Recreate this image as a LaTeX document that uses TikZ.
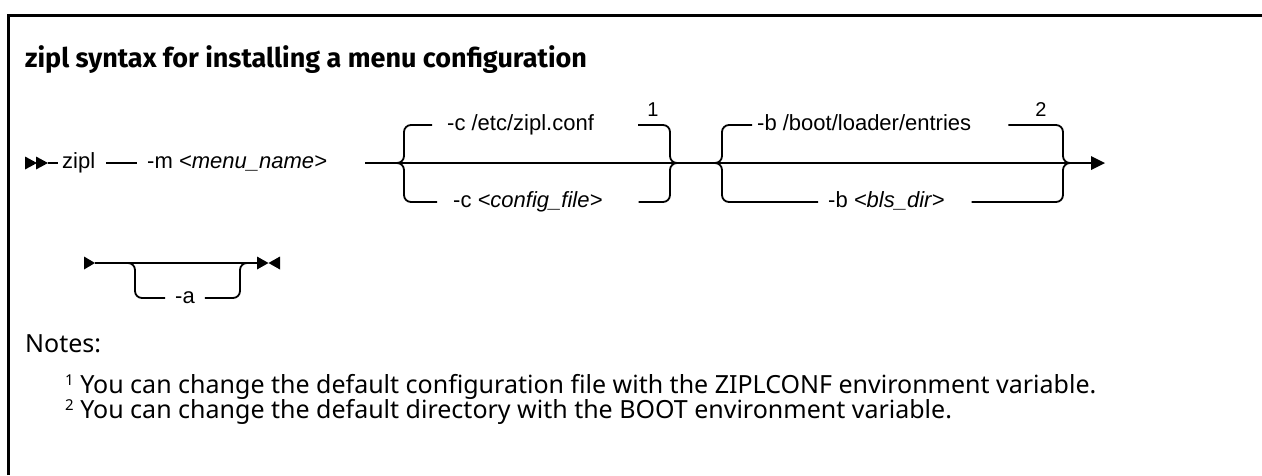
\documentclass[tikz,border=0pt]{standalone}
\usepackage{fontspec}
\setmainfont{Liberation Sans}
\newfontfamily\titlefont{Fira Sans}
\newfontfamily\notefont{Noto Sans}
\begin{document}
\fontsize{22}{26}\selectfont
\begin{tikzpicture}[x=1pt,y=-1pt,
  rail/.style={line width=1.8pt, line cap=butt},
  rc/.style={rail, rounded corners=7pt},
  lbl/.style={font=\fontsize{22}{26}\selectfont, inner sep=0pt, anchor=mid west, text=black},
  supnum/.style={font=\fontsize{20}{22}\selectfont, inner sep=0pt},
  tipfill/.style={fill=black, draw=none},
  ttl/.style={font=\titlefont\bfseries\fontsize{27}{30}\selectfont, inner sep=0pt, anchor=base west},
  notetxt/.style={font=\notefont\fontsize{25}{28}\selectfont, inner sep=0pt, anchor=base west}
]
\useasboundingbox (0,0) rectangle (1262,475);
% frame (top and left only)
\draw[line width=3pt] (8,475) -- (8,15) -- (1262,15);

% title
\node[ttl] (title) at (25,67) {zipl syntax for installing a menu configuration};

% ---- row 1 ----
\fill[tipfill] (25,156.5) -- (37,163) -- (25,169.5) -- cycle;
\fill[tipfill] (36,156.5) -- (48,163) -- (36,169.5) -- cycle;
\node[lbl] (zipl) at (62,163) {zipl};
\node[lbl] (m) at (147,163) {-m \textit{<menu\_name>}};
\draw[rail] (48,163) -- ([xshift=-4pt]zipl.mid west);
\draw[rail] ([xshift=11pt]zipl.mid east) -- ([xshift=-10pt]m.mid west);

% main line through both groups
\coordinate (mainend) at (1092,163);
\draw[rail] ([xshift=38pt]m.mid east) -- (mainend);
\fill[tipfill] (1091,156) -- (1105,163) -- (1091,170) -- cycle;

% group 1
\coordinate (j1a) at (396,163);
\coordinate (j1b) at (678,163);
\node[lbl] (c1) at (447,125) {-c /etc/zipl.conf};
\node[lbl] (c2) at (453,202) {-c \textit{<config\_file>}};
\draw[rc] (j1a) -| (404,125) -- ([xshift=-15pt]c1.mid west);
\draw[rc] (j1a) -| (404,202) -- ([xshift=-16pt]c2.mid west);
\draw[rc] ([xshift=44pt]c1.mid east) -| (670,163) -- (j1b);
\draw[rc] ([xshift=36pt]c2.mid east) -| (670,163) -- (j1b);
\node[supnum] (s1) at (653,110) {1};

% group 2
\coordinate (j2a) at (714,163);
\coordinate (j2b) at (1071,163);
\node[lbl] (b1) at (757,125) {-b /boot/loader/entries};
\node[lbl] (b2) at (828,202) {-b \textit{<bls\_dir>}};
\draw[rc] (j2a) -| (722,125) -- ([xshift=-5pt]b1.mid west);
\draw[rc] (j2a) -| (722,202) -- ([xshift=-10pt]b2.mid west);
\draw[rc] ([xshift=37pt]b1.mid east) -| (1063,163) -- (j2b);
\draw[rc] ([xshift=27pt]b2.mid east) -| (1063,163) -- (j2b);
\node[supnum] (s2) at (1041,110) {2};

% ---- row 2 ----
\fill[tipfill] (84,256.5) -- (95,263) -- (84,269.5) -- cycle;
\coordinate (r2a) at (95,263);
\coordinate (r2b) at (258,263);
\draw[rail] (r2a) -- (r2b);
\fill[tipfill] (257,256.5) -- (268.5,263) -- (257,269.5) -- cycle;
\fill[tipfill] (280,256.5) -- (268.5,263) -- (280,269.5) -- cycle;
\node[lbl] (a) at (175,298) {-a};
\coordinate (a1) at (127,263);
\coordinate (a2) at (248,263);
\draw[rc] (a1) -| (135,298) -- ([xshift=-10pt]a.mid west);
\draw[rc] ([xshift=10pt]a.mid east) -| (240,263) -- (a2);

% ---- notes ----
\node[notetxt] (notes) at (25,352) {Notes:};
\node[notetxt] (n1) at (65,393) {\raisebox{8pt}{\fontsize{15}{16}\selectfont 1} You can change the default configuration file with the ZIPLCONF environment variable.};
\node[notetxt] (n2) at (65,418) {\raisebox{8pt}{\fontsize{15}{16}\selectfont 2} You can change the default directory with the BOOT environment variable.};
\end{tikzpicture}
\end{document}
